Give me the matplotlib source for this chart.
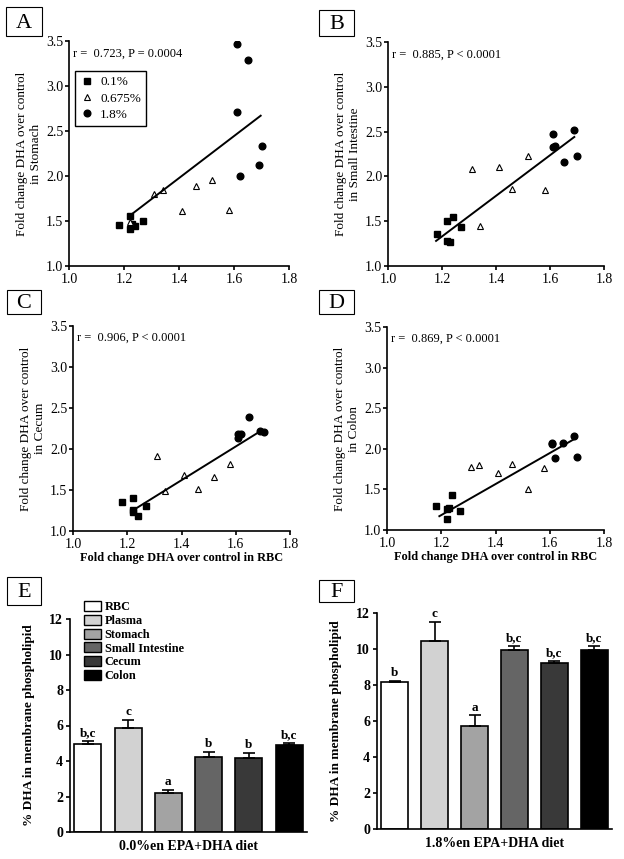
"""
DHA fold change in GI tissues vs RBC (A-D) and % DHA in membrane
phospholipid by tissue for two diets (E-F).
"""

import numpy as np
import matplotlib.pyplot as plt
import matplotlib as mpl
from matplotlib.patches import Rectangle, Patch

mpl.rcParams.update({
    "font.family": "serif",
    "font.serif": ["Liberation Serif", "DejaVu Serif"],
    "font.size": 10,
    "axes.linewidth": 1.2,
    "xtick.major.width": 1.2,
    "ytick.major.width": 1.2,
    "xtick.major.size": 3,
    "ytick.major.size": 3,
})

# ---- scatter data (x = fold change in RBC, y = fold change in tissue) ----
# A: stomach
A_LOW_X = [1.18, 1.22, 1.22, 1.23, 1.24, 1.27]
A_LOW_Y = [1.455, 1.56, 1.41, 1.47, 1.44, 1.50]
A_MID_X = [1.222, 1.31, 1.34, 1.41, 1.46, 1.52, 1.58]
A_MID_Y = [1.49, 1.80, 1.84, 1.61, 1.89, 1.95, 1.62]
A_HIGH_X = [1.61, 1.65, 1.61, 1.70, 1.69, 1.62]
A_HIGH_Y = [3.47, 3.285, 2.71, 2.33, 2.12, 2.00]
A_FIT_X = [1.224, 1.697]
A_FIT_Y = [1.566, 2.67]

# B: small intestine
B_LOW_X = [1.18, 1.22, 1.24, 1.22, 1.23, 1.27]
B_LOW_Y = [1.353, 1.498, 1.543, 1.282, 1.271, 1.435]
B_MID_X = [1.31, 1.34, 1.41, 1.46, 1.52, 1.58]
B_MID_Y = [2.08, 1.45, 2.11, 1.86, 2.23, 1.85]
B_HIGH_X = [1.61, 1.61, 1.62, 1.65, 1.69, 1.70]
B_HIGH_Y = [2.47, 2.33, 2.34, 2.16, 2.52, 2.23]
B_FIT_X = [1.178, 1.69]
B_FIT_Y = [1.28, 2.44]

# C: cecum
C_LOW_X = [1.18, 1.22, 1.22, 1.223, 1.24, 1.27]
C_LOW_Y = [1.358, 1.40, 1.26, 1.228, 1.187, 1.30]
C_MID_X = [1.31, 1.34, 1.41, 1.46, 1.52, 1.58]
C_MID_Y = [1.91, 1.49, 1.68, 1.517, 1.66, 1.82]
C_HIGH_X = [1.65, 1.61, 1.61, 1.62, 1.69, 1.705]
C_HIGH_Y = [2.39, 2.18, 2.13, 2.18, 2.225, 2.21]
C_FIT_X = [1.22, 1.697]
C_FIT_Y = [1.25, 2.23]

# D: colon
D_LOW_X = [1.18, 1.22, 1.22, 1.23, 1.24, 1.27]
D_LOW_Y = [1.30, 1.13, 1.26, 1.27, 1.43, 1.24]
D_MID_X = [1.31, 1.34, 1.41, 1.46, 1.52, 1.58]
D_MID_Y = [1.77, 1.80, 1.70, 1.81, 1.50, 1.76]
D_HIGH_X = [1.61, 1.61, 1.65, 1.62, 1.69, 1.70]
D_HIGH_Y = [2.076, 2.06, 2.07, 1.89, 2.16, 1.90]
D_FIT_X = [1.193, 1.693]
D_FIT_Y = [1.17, 2.125]

STATS = ["r =  0.723, P = 0.0004", "r =  0.885, P < 0.0001",
         "r =  0.906, P < 0.0001", "r =  0.869, P < 0.0001"]
TISSUE_LABELS = ["in Stomach", "in Small Intestine", "in Cecum", "in Colon"]
GROUP_LABELS = ["0.1%", "0.675%", "1.8%"]

# ---- bar data ----
TISSUES = ["RBC", "Plasma", "Stomach", "Small Intestine", "Cecum", "Colon"]
E_MEAN = [4.96, 5.87, 2.19, 4.24, 4.17, 4.92]
E_SEM = [0.17, 0.43, 0.17, 0.28, 0.28, 0.08]
E_LETTERS = ["b,c", "c", "a", "b", "b", "b,c"]
F_MEAN = [8.15, 10.46, 5.74, 9.94, 9.20, 9.94]
F_SEM = [0.08, 1.05, 0.57, 0.24, 0.15, 0.24]
F_LETTERS = ["b", "c", "a", "b,c", "b,c", "b,c"]
BAR_COLORS = ["#ffffff", "#d2d2d2", "#a3a3a3", "#656565", "#393939", "#000000"]

W, H = 624, 859


def fig_rect(left, top, right, bottom):
    return [left / W, 1 - bottom / H, (right - left) / W, (bottom - top) / H]


def panel_tag(fig, letter, left, top, right, bottom):
    fig.patches.append(Rectangle(
        (left / W, 1 - bottom / H), (right - left) / W, (bottom - top) / H,
        transform=fig.transFigure, fill=False, edgecolor="black", linewidth=0.8))
    fig.text((left + right) / 2 / W, 1 - (top + bottom) / 2 / H - 0.002, letter,
             ha="center", va="center", fontsize=16)


def scatter_panel(ax, low, mid, high, fit, stat, tissue, xlabel=False, legend=False):
    h1, = ax.plot(low[0], low[1], "s", color="black", markersize=4.8, linestyle="none")
    h2, = ax.plot(mid[0], mid[1], "^", markerfacecolor="white", markeredgecolor="black",
                  markersize=5, markeredgewidth=0.8, linestyle="none")
    h3, = ax.plot(high[0], high[1], "o", color="black", markersize=4.8, linestyle="none")
    ax.plot(fit[0], fit[1], color="black", linewidth=1.4)
    ax.set_xlim(1.0, 1.8)
    ax.set_ylim(1.0, 3.5)
    ax.set_xticks([1.0, 1.2, 1.4, 1.6, 1.8])
    ax.set_yticks([1.0, 1.5, 2.0, 2.5, 3.0, 3.5])
    ax.xaxis.set_major_formatter(mpl.ticker.FormatStrFormatter("%.1f"))
    ax.yaxis.set_major_formatter(mpl.ticker.FormatStrFormatter("%.1f"))
    ax.spines[["top", "right"]].set_visible(False)
    ax.tick_params(labelsize=10, pad=1)
    ax.tick_params(axis="x", pad=2)
    ax.text(0.02, 0.97, stat, transform=ax.transAxes, fontsize=9, va="top", ha="left")
    ax.set_ylabel("Fold change DHA over control\n" + tissue, fontsize=9.5, labelpad=3)
    if xlabel:
        ax.set_xlabel("Fold change DHA over control in RBC", fontsize=8.8,
                      fontweight="bold", labelpad=1)
    if legend:
        ax.legend([h1, h2, h3], GROUP_LABELS, loc="upper left",
                  bbox_to_anchor=(0.027, 0.867), borderaxespad=0, fancybox=False,
                  edgecolor="black", framealpha=1, fontsize=9.5, handletextpad=0.5,
                  borderpad=0.4, labelspacing=0.3, handlelength=1.0)


def bar_panel(ax, means, sems, letters, xlabel):
    pos = np.arange(len(TISSUES))
    ax.bar(pos, means, width=0.67, color=BAR_COLORS, edgecolor="black", linewidth=1.2)
    ax.errorbar(pos, means, yerr=[np.zeros(len(means)), sems], fmt="none",
                ecolor="black", elinewidth=1.2, capsize=4.5, capthick=1.2)
    for p, m, s, lab in zip(pos, means, sems, letters):
        ax.text(p, m + s + 0.1, lab, ha="center", va="bottom", fontsize=9.5,
                fontweight="bold")
    ax.set_xlim(-0.44, 5.44)
    ax.set_ylim(0, 12)
    ax.set_yticks(range(0, 13, 2))
    ax.set_xticks([])
    ax.spines[["top", "right"]].set_visible(False)
    for t in ax.get_yticklabels():
        t.set_fontweight("bold")
    ax.tick_params(labelsize=10, pad=2)
    ax.set_ylabel("% DHA in membrane phospholipid", fontsize=9.5, fontweight="bold",
                  labelpad=10)
    ax.set_xlabel(xlabel, fontsize=10, fontweight="bold", labelpad=6)


def plot():
    fig = plt.figure(figsize=(W / 100, H / 100), dpi=100)

    ax_a = fig.add_axes(fig_rect(69, 41, 289, 266))
    ax_b = fig.add_axes(fig_rect(388, 42, 604, 266))
    ax_c = fig.add_axes(fig_rect(73, 326, 290, 531))
    ax_d = fig.add_axes(fig_rect(387, 327, 604, 530))
    ax_e = fig.add_axes(fig_rect(70, 619, 307, 832))
    ax_f = fig.add_axes(fig_rect(377, 613, 612, 829))

    scatter_panel(ax_a, (A_LOW_X, A_LOW_Y), (A_MID_X, A_MID_Y), (A_HIGH_X, A_HIGH_Y),
                  (A_FIT_X, A_FIT_Y), STATS[0], TISSUE_LABELS[0], legend=True)
    scatter_panel(ax_b, (B_LOW_X, B_LOW_Y), (B_MID_X, B_MID_Y), (B_HIGH_X, B_HIGH_Y),
                  (B_FIT_X, B_FIT_Y), STATS[1], TISSUE_LABELS[1])
    scatter_panel(ax_c, (C_LOW_X, C_LOW_Y), (C_MID_X, C_MID_Y), (C_HIGH_X, C_HIGH_Y),
                  (C_FIT_X, C_FIT_Y), STATS[2], TISSUE_LABELS[2], xlabel=True)
    scatter_panel(ax_d, (D_LOW_X, D_LOW_Y), (D_MID_X, D_MID_Y), (D_HIGH_X, D_HIGH_Y),
                  (D_FIT_X, D_FIT_Y), STATS[3], TISSUE_LABELS[3], xlabel=True)

    bar_panel(ax_e, E_MEAN, E_SEM, E_LETTERS, "0.0%en EPA+DHA diet")
    bar_panel(ax_f, F_MEAN, F_SEM, F_LETTERS, "1.8%en EPA+DHA diet")

    handles = [Patch(facecolor=c, edgecolor="black", linewidth=1.0) for c in BAR_COLORS]
    fig.legend(handles, TISSUES, loc="upper left", bbox_to_anchor=(84 / W, 1 - 601 / H),
               frameon=False, prop={"weight": "bold", "size": 8.8}, borderaxespad=0,
               handlelength=1.4, handleheight=0.9, labelspacing=0.12,
               handletextpad=0.3, borderpad=0)

    panel_tag(fig, "A", 6, 7, 42, 36)
    panel_tag(fig, "B", 319, 10, 354, 36)
    panel_tag(fig, "C", 7, 290, 41, 314)
    panel_tag(fig, "D", 319, 290, 354, 314)
    panel_tag(fig, "E", 7, 577, 41, 605)
    panel_tag(fig, "F", 319, 580, 354, 602)

    fig.savefig("out.png", dpi=100)


if __name__ == "__main__":
    plot()
